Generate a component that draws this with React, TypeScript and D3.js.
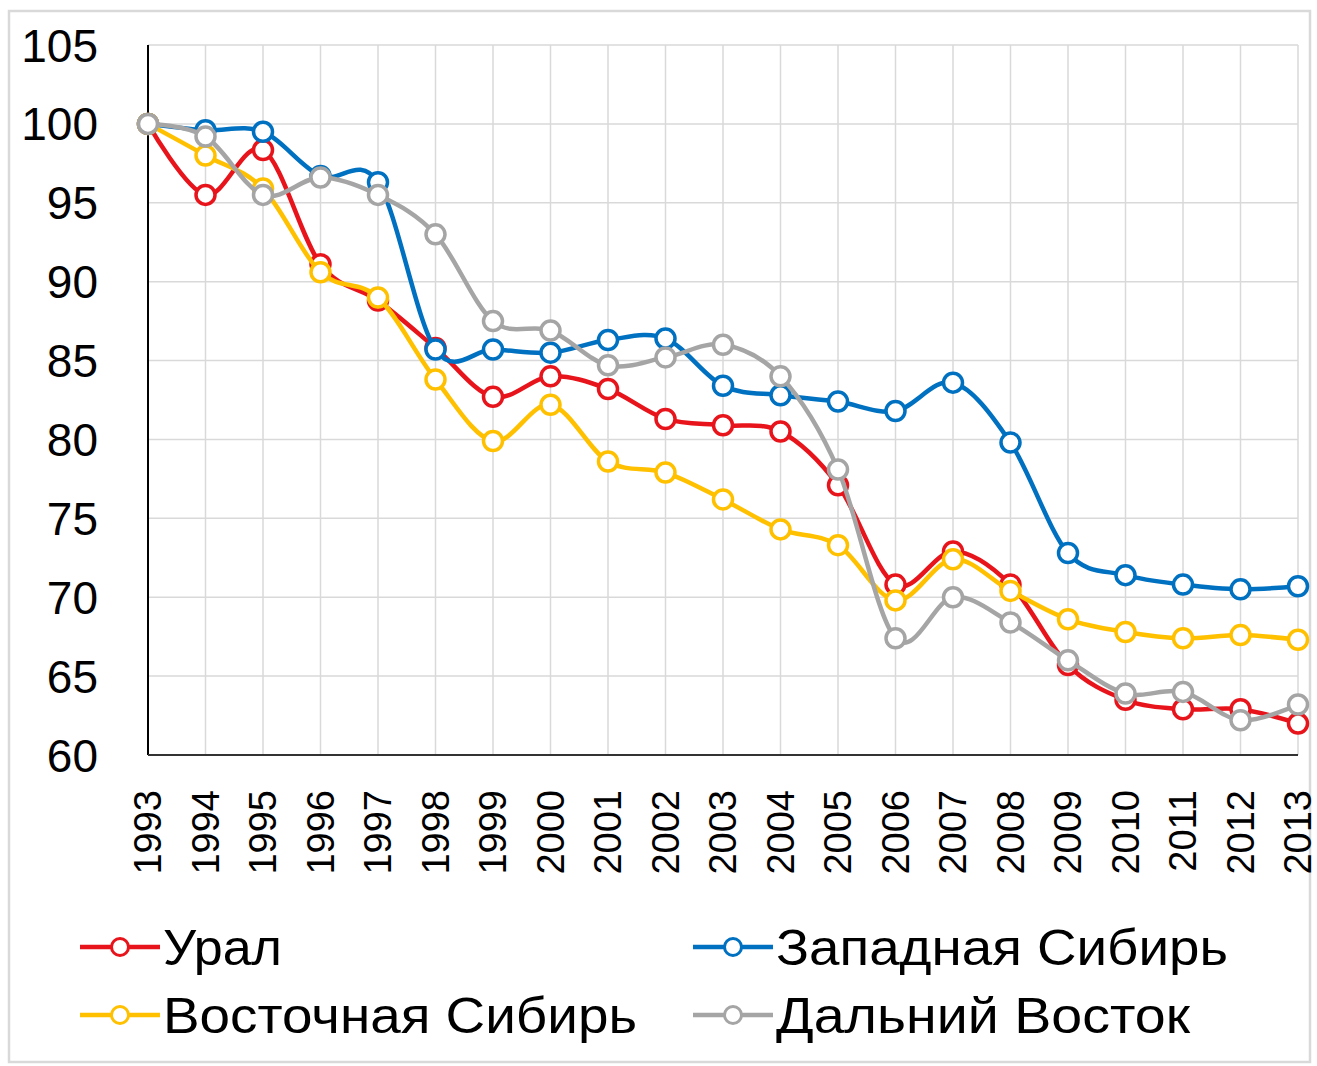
import React from "react";
import * as d3 from "d3";

const years = [1993,1994,1995,1996,1997,1998,1999,2000,2001,2002,2003,2004,2005,2006,2007,2008,2009,2010,2011,2012,2013];
const ural = [100,95.5,98.35,91.1,88.8,85.8,82.7,84.0,83.2,81.3,80.9,80.5,77.1,70.8,72.9,70.8,65.7,63.5,62.9,62.9,62.0];
const westSiberia = [100,99.6,99.5,96.7,96.3,85.7,85.7,85.5,86.3,86.4,83.4,82.8,82.4,81.8,83.6,79.8,72.8,71.4,70.8,70.5,70.7];
const eastSiberia = [100,98.0,95.9,90.6,89.0,83.8,79.9,82.2,78.6,77.9,76.2,74.3,73.3,69.8,72.4,70.4,68.6,67.8,67.4,67.6,67.3];
const farEast = [100,99.2,95.5,96.6,95.5,93.0,87.5,86.9,84.7,85.2,86.0,84.0,78.1,67.4,70.0,68.4,66.0,63.9,64.0,62.2,63.2];
const yTicks = [60,65,70,75,80,85,90,95,100,105];

const seriesNames = ["Урал","Западная Сибирь","Восточная Сибирь","Дальний Восток"];
const seriesColors = ["#E8141B","#0070C0","#FFC000","#A5A5A5"];
const legendTextWidths = [119, 452, 474, 414];

const W = 1317, H = 1066;
const left = 148, right = 1298, top = 45, bottom = 755;
const FONT = "'Liberation Sans', Arial, sans-serif";

export default function App() {
  const x = d3.scaleLinear().domain([1993, 2013]).range([left, right]);
  const y = d3.scaleLinear().domain([60, 105]).range([bottom, top]);
  const data = [ural, westSiberia, eastSiberia, farEast];
  const line = d3.line<number>()
    .x((_, i) => x(years[i]))
    .y((d) => y(d))
    .curve(d3.curveCardinal.tension(0));

  const legendItems = [
    { i: 0, lx: 80, ly: 947 },
    { i: 1, lx: 693, ly: 947 },
    { i: 2, lx: 80, ly: 1015 },
    { i: 3, lx: 693, ly: 1015 },
  ];

  return (
    <svg width={W} height={H} style={{ position: "absolute", left: 0, top: 0, background: "#fff" }} fontFamily={FONT}>
      <rect x={0} y={0} width={W} height={H} fill="#fff" />
      <rect x={9} y={11} width={1301} height={1051} fill="#fff" stroke="#d9d9d9" strokeWidth={2.5} />
      {yTicks.filter(t => t !== 60).map(t => (
        <line key={"h" + t} x1={left} x2={right} y1={y(t)} y2={y(t)} stroke="#d9d9d9" strokeWidth={1.5} />
      ))}
      {years.filter(yr => yr !== 1993).map(yr => (
        <line key={"v" + yr} x1={x(yr)} x2={x(yr)} y1={top} y2={bottom} stroke="#d9d9d9" strokeWidth={1.5} />
      ))}
      <line x1={left} x2={left} y1={top} y2={bottom} stroke="#000" strokeWidth={2} />
      <line x1={left} x2={right} y1={bottom} y2={bottom} stroke="#333" strokeWidth={2} />
      {yTicks.map(t => (
        <text key={"yt" + t} x={98} y={y(t)} dy="0.36em" textAnchor="end" fontSize={46} fill="#000">{t}</text>
      ))}
      {years.map(yr => (
        <text key={"xt" + yr} transform={`translate(${x(yr) + 13},790) rotate(-90)`} textAnchor="end" fontSize={38} fill="#000">{yr}</text>
      ))}
      {data.map((s, si) => (
        <g key={"s" + si}>
          <path d={line(s) || ""} fill="none" stroke={seriesColors[si]} strokeWidth={4.5} />
          {s.map((v, i) => (
            <circle key={i} cx={x(years[i])} cy={y(v)} r={9.5} fill="#fff" stroke={seriesColors[si]} strokeWidth={3.5} />
          ))}
        </g>
      ))}
      {legendItems.map(({ i, lx, ly }) => (
        <g key={"lg" + i}>
          <line x1={lx} x2={lx + 80} y1={ly} y2={ly} stroke={seriesColors[i]} strokeWidth={4.5} />
          <circle cx={lx + 40} cy={ly} r={8.5} fill="#fff" stroke={seriesColors[i]} strokeWidth={3} />
          <text x={lx + 83} y={ly + 18} fontSize={50} fill="#000" textLength={legendTextWidths[i]} lengthAdjust="spacingAndGlyphs">{seriesNames[i]}</text>
        </g>
      ))}
    </svg>
  );
}
